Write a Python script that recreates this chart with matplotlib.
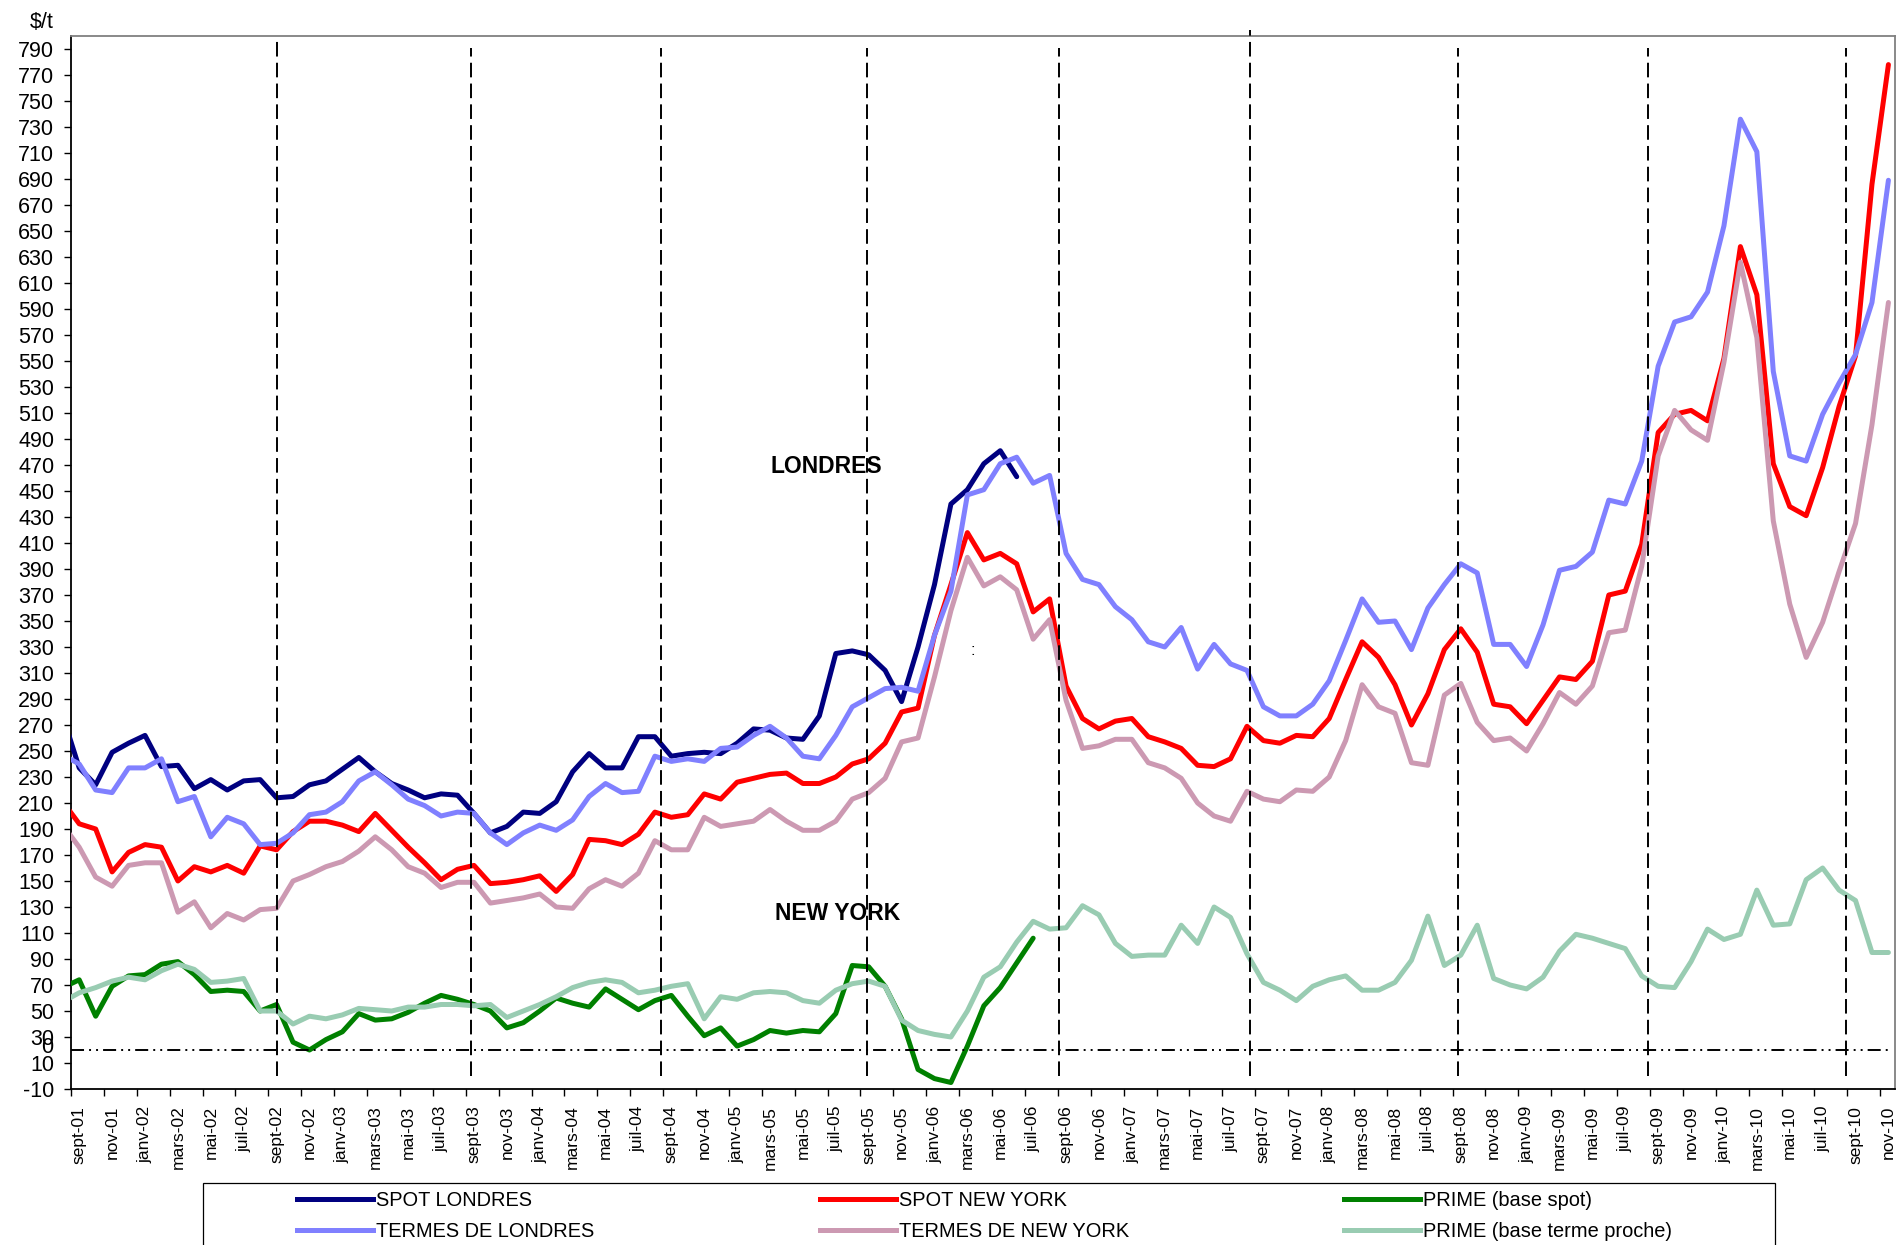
import numpy as np
import matplotlib
matplotlib.use("Agg")
import matplotlib.pyplot as plt
from matplotlib.lines import Line2D
from matplotlib.patches import Rectangle
import matplotlib.transforms as mtransforms

plt.rcParams['font.family'] = ['Liberation Sans', 'DejaVu Sans']

# ---------------- data ----------------
# months from août-01 (index -1, partly hidden at the left edge) to nov-10 (index 110)
MONTH_NAMES = ['janv', 'févr', 'mars', 'avr', 'mai', 'juin',
               'juil', 'août', 'sept', 'oct', 'nov', 'déc']
first_year, first_month = 2001, 8   # août-01

spot_londres = [277,
    237, 224, 249, 256, 262, 238, 239, 221, 228, 220, 227, 228,
    214, 215, 224, 227, 236, 245, 234, 225, 220, 214, 217, 216,
    202, 187, 192, 203, 202, 211, 234, 248, 237, 237, 261, 261,
    246, 248, 249, 248, 256, 267, 266, 260, 259, 277, 325, 327,
    324, 312, 288, 330, 378, 440, 451, 471, 481, 461]

termes_londres = [247,
    240, 220, 218, 237, 237, 244, 211, 215, 184, 199, 194, 178,
    179, 187, 201, 203, 211, 227, 234, 224, 213, 208, 200, 203,
    202, 187, 178, 187, 193, 189, 197, 215, 225, 218, 219, 246,
    242, 244, 242, 252, 253, 262, 269, 260, 246, 244, 262, 284,
    291, 298, 299, 296, 339, 373, 447, 451, 471, 476, 456, 462,
    402, 382, 378, 361, 351, 334, 330, 345, 313, 332, 317, 312,
    284, 277, 277, 286, 304, 335, 367, 349, 350, 328, 360, 378,
    394, 387, 332, 332, 315, 347, 389, 392, 403, 443, 440, 473,
    546, 580, 584, 603, 654, 736, 711, 542, 477, 473, 509, 533,
    555, 595, 689]

spot_new_york = [211,
    194, 190, 157, 172, 178, 176, 150, 161, 157, 162, 156, 177,
    174, 188, 196, 196, 193, 188, 202, 189, 176, 164, 151, 159,
    162, 148, 149, 151, 154, 142, 155, 182, 181, 178, 186, 203,
    199, 201, 217, 213, 226, 229, 232, 233, 225, 225, 230, 240,
    244, 256, 280, 283, 339, 378, 418, 397, 402, 394, 357, 367,
    300, 275, 267, 273, 275, 261, 257, 252, 239, 238, 244, 269,
    258, 256, 262, 261, 275, 305, 334, 322, 301, 270, 294, 328,
    344, 326, 286, 284, 271, 289, 307, 305, 319, 370, 373, 409,
    495, 509, 512, 504, 552, 638, 601, 471, 438, 431, 468, 515,
    554, 686, 778]

termes_new_york = [193,
    176, 153, 146, 162, 164, 164, 126, 134, 114, 125, 120, 128,
    129, 150, 155, 161, 165, 173, 184, 174, 161, 156, 145, 149,
    149, 133, 135, 137, 140, 130, 129, 144, 151, 146, 156, 181,
    174, 174, 199, 192, 194, 196, 205, 196, 189, 189, 196, 213,
    218, 229, 257, 260, 307, 358, 399, 377, 384, 374, 336, 351,
    289, 252, 254, 259, 259, 241, 237, 229, 210, 200, 196, 219,
    213, 211, 220, 219, 230, 258, 301, 284, 279, 241, 239, 293,
    302, 272, 258, 260, 250, 271, 295, 286, 300, 341, 343, 392,
    477, 512, 497, 489, 549, 626, 568, 427, 363, 322, 349, 388,
    425, 501, 595]

prime_spot = [68,
    74, 46, 69, 77, 78, 86, 88, 78, 65, 66, 65, 50,
    55, 26, 20, 28, 34, 48, 43, 44, 49, 56, 62, 59,
    55, 50, 37, 41, 50, 60, 56, 53, 67, 59, 51, 58,
    62, 46, 31, 37, 23, 28, 35, 33, 35, 34, 48, 85,
    84, 69, 44, 5, -2, -5, 23, 54, 68, 87, 106]

prime_terme = [57,
    64, 68, 73, 76, 74, 81, 86, 82, 72, 73, 75, 50,
    50, 40, 46, 44, 47, 52, 51, 50, 53, 53, 55, 55,
    54, 55, 45, 50, 55, 61, 68, 72, 74, 72, 64, 66,
    69, 71, 44, 61, 59, 64, 65, 64, 58, 56, 66, 71,
    73, 69, 43, 35, 32, 30, 50, 76, 84, 103, 119, 113,
    114, 131, 124, 102, 92, 93, 93, 116, 102, 130, 122, 94,
    72, 66, 58, 69, 74, 77, 66, 66, 72, 89, 123, 85,
    93, 116, 75, 70, 67, 76, 96, 109, 106, 102, 98, 77,
    69, 68, 88, 113, 105, 109, 143, 116, 117, 151, 160, 143,
    135, 95, 95]

y_ticks = list(range(-10, 791, 20))
# hand-drawn separators (in category units) and the reference level line
separators = [12.0, 23.8, 35.4, 47.9, 59.6, 71.2, 83.8, 95.4, 107.4]
separator_tops = [797, 791, 791, 791, 791, 805, 791, 791, 791]
ref_level = 20

n_months = 112  # août-01 .. nov-10
labels_all = []
for k in range(n_months):
    m = (first_month - 1 + k) % 12
    y = first_year + (first_month - 1 + k) // 12
    labels_all.append(f"{MONTH_NAMES[m]}-{y % 100:02d}")
months = labels_all[1:]          # sept-01 .. nov-10 (visible categories)

# ---------------- figure ----------------
W, H = 1897, 1245
fig = plt.figure(figsize=(W / 100, H / 100), dpi=100)
ax = fig.add_axes([71 / W, 1 - 1089 / H, 1824 / W, (1089 - 36) / H])

def xs(arr):
    return np.arange(len(arr)) - 1

lw = 3.6
series = [
    (spot_londres, '#000080', 'SPOT LONDRES'),
    (spot_new_york, '#FF0000', 'SPOT NEW YORK'),
    (prime_spot, '#008000', 'PRIME (base spot)'),
    (termes_londres, '#8080FF', 'TERMES DE LONDRES'),
    (termes_new_york, '#CC99B2', 'TERMES DE NEW YORK'),
    (prime_terme, '#99CCB2', 'PRIME (base terme proche)'),
]
handles = {}
for vals, col, lab in series:
    ln, = ax.plot(xs(vals), vals, color=col, lw=lw, solid_joinstyle='round',
                  solid_capstyle='round', label=lab, zorder=3)
    handles[lab] = ln

# separators
for xv, top in zip(separators, separator_tops):
    ax.plot([xv, xv], [0, top], color='black', lw=1.4,
            linestyle=(0, (7.5, 3.2)), clip_on=False, zorder=4)
# reference dash-dot-dot line
ax.plot([-0.5, 110.0], [ref_level, ref_level], color='black', lw=1.4,
        linestyle=(0, (6.7, 2.6, 1.0, 2.6, 1.0, 2.6)), zorder=4)

ax.set_xlim(-0.5, 110.4)
ax.set_ylim(-10, 800)

ax.set_yticks(y_ticks)
ax.set_yticklabels([str(v) for v in y_ticks], fontsize=15.5)
ax.tick_params(axis='y', which='major', length=5, width=1.0, pad=7,
               direction='out', colors='black')

ax.set_xticks(np.arange(0, len(months), 2))
ax.set_xticklabels(months[::2], rotation=90, fontsize=12.5)
ax.set_xticks(np.arange(-0.5, len(months) - 0.5, 2), minor=True)
ax.tick_params(axis='x', which='major', length=0, pad=12)
ax.tick_params(axis='x', which='minor', length=5, width=1.0, direction='out')

for s in ['left', 'bottom']:
    ax.spines[s].set_color('black')
    ax.spines[s].set_linewidth(1.3)
for s in ['top', 'right']:
    ax.spines[s].set_color('#808080')
    ax.spines[s].set_linewidth(1.3)

# annotations
ax.text(45.4, 469, 'LONDRES', fontsize=16.5, fontweight='bold',
        ha='center', va='center')
ax.text(46.1, 125, 'NEW YORK', fontsize=16.5, fontweight='bold',
        ha='center', va='center')
ax.text(54.3, 327, ':', fontsize=12, ha='center', va='center')
trans = mtransforms.blended_transform_factory(ax.transAxes, ax.transData)
ax.text(-18 / 1824, 22, '0', fontsize=15.5, ha='right', va='center',
        transform=trans)
fig.text(42 / W, 1 - 22 / H, '$/t', fontsize=15.5, ha='center', va='center')

# legend frame (cut by the bottom edge of the picture)
fig.patches.append(Rectangle((203 / W, -0.01), 1572 / W, 0.01 + (1245 - 1183) / H,
                             transform=fig.transFigure, fill=False,
                             edgecolor='black', lw=0.9))
cols = [
    (['SPOT LONDRES', 'TERMES DE LONDRES'], 297),
    (['SPOT NEW YORK', 'TERMES DE NEW YORK'], 820),
    (['PRIME (base spot)', 'PRIME (base terme proche)'], 1344),
]
for labs, x0 in cols:
    hs = [Line2D([0], [0], color=handles[l].get_color(), lw=lw) for l in labs]
    fig.legend(hs, labs, loc='upper left', bbox_to_anchor=(x0 / W, 1 - 1191 / H),
               frameon=False, borderpad=0, borderaxespad=0, fontsize=14.4,
               handlelength=3.8, handletextpad=0.15, labelspacing=0.62)

fig.savefig('out.png', dpi=100)
